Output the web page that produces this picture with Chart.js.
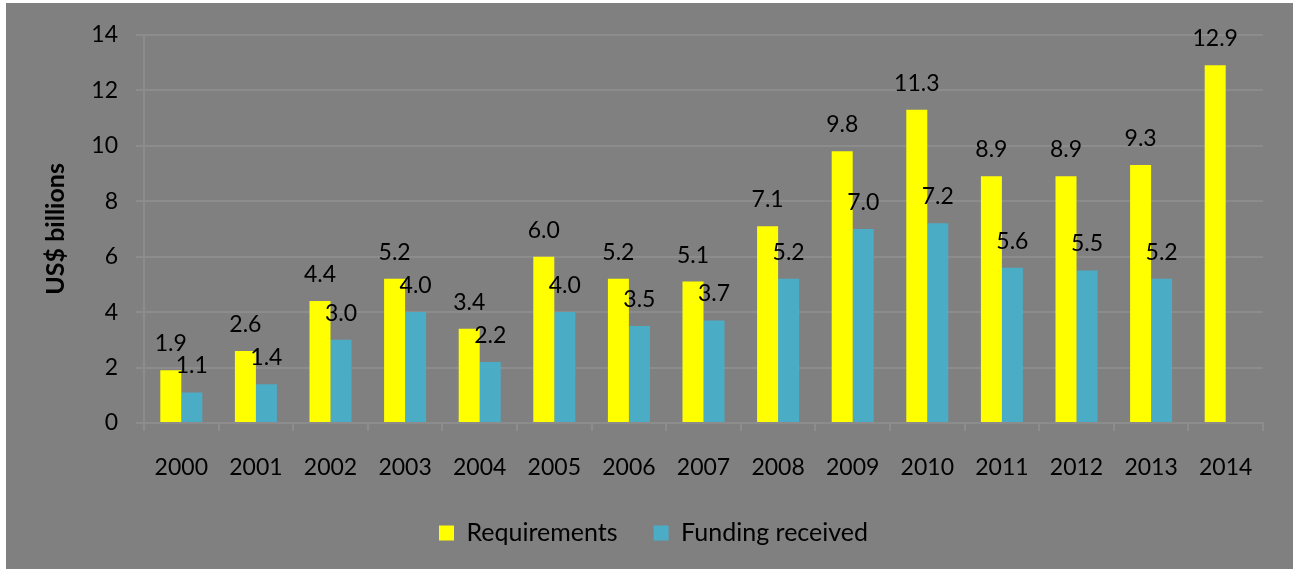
<!DOCTYPE html>
<html>
<head>
<meta charset="utf-8">
<script src="https://cdn.jsdelivr.net/npm/chart.js@4"></script>
<style>
  html, body { margin: 0; padding: 0; background: #ffffff; }
  #wrap { position: absolute; left: 6px; top: 3px; width: 1287px; height: 566px; background: #808080; }
  canvas { display: block; }
</style>
</head>
<body>
<div id="wrap"><canvas id="c" width="1287" height="566"></canvas></div>
<script>
const categories = ['2000','2001','2002','2003','2004','2005','2006','2007','2008','2009','2010','2011','2012','2013','2014'];
const requirements = [1.9, 2.6, 4.4, 5.2, 3.4, 6.0, 5.2, 5.1, 7.1, 9.8, 11.3, 8.9, 8.9, 9.3, 12.9];
const fundingReceived = [1.1, 1.4, 3.0, 4.0, 2.2, 4.0, 3.5, 3.7, 5.2, 7.0, 7.2, 5.6, 5.5, 5.2, null];
const seriesNames = ['Requirements', 'Funding received'];
const yTicks = [0, 2, 4, 6, 8, 10, 12, 14];

const FONT = 'Lato, "Open Sans", sans-serif';

const valueLabels = {
  id: 'valueLabels',
  afterDatasetsDraw(chart) {
    const ctx = chart.ctx;
    ctx.save();
    ctx.font = '23px ' + FONT;
    ctx.fillStyle = '#000000';
    ctx.textAlign = 'center';
    ctx.textBaseline = 'alphabetic';
    chart.data.datasets.forEach((ds, di) => {
      const meta = chart.getDatasetMeta(di);
      meta.data.forEach((el, i) => {
        const v = ds.data[i];
        if (v === null || v === undefined) return;
        ctx.fillText(v.toFixed(1), el.x, el.y - 19);
      });
    });
    ctx.restore();
  }
};

const legendShift = {
  id: 'legendShift',
  afterLayout(chart) {
    const lg = chart.legend;
    if (lg) { lg.left += 19; lg.right += 19; }
  }
};

new Chart(document.getElementById('c'), {
  type: 'bar',
  data: {
    labels: categories,
    datasets: [
      { label: seriesNames[0], data: requirements, backgroundColor: '#FFFF00', borderWidth: 0 },
      { label: seriesNames[1], data: fundingReceived, backgroundColor: '#4BACC6', borderWidth: 0 }
    ]
  },
  options: {
    responsive: false,
    animation: false,
    devicePixelRatio: 1,
    layout: { padding: { left: 0, right: 30, top: 30, bottom: 13.5 } },
    datasets: { bar: { categoryPercentage: 0.563, barPercentage: 1.0 } },
    plugins: {
      legend: {
        position: 'bottom',
        labels: {
          color: '#000000',
          font: { family: FONT, size: 25 },
          boxWidth: 15,
          boxHeight: 15,
          padding: 36
        }
      },
      tooltip: { enabled: false }
    },
    scales: {
      x: {
        grid: { display: true, drawOnChartArea: false, color: '#8c8c8c', tickLength: 8, offset: true, lineWidth: 2 },
        border: { display: true, color: '#8c8c8c', width: 2 },
        ticks: { color: '#000000', font: { family: FONT, size: 23 }, padding: 23, maxRotation: 0 },
        afterFit(scale) { scale.height = 61.5; }
      },
      y: {
        min: 0, max: 14,
        afterBuildTicks(scale) { scale.ticks = yTicks.map(v => ({ value: v })); },
        grid: { color: '#8c8c8c', lineWidth: 2, tickLength: 8 },
        border: { display: true, color: '#8c8c8c', width: 2 },
        ticks: { color: '#000000', font: { family: FONT, size: 23 }, padding: 18 },
        title: { display: true, text: 'US$ billions', color: '#000000', font: { family: FONT, size: 25, weight: 'bold' }, padding: { top: 35, bottom: 0 } },
        afterFit(scale) { scale.width = 138; }
      }
    }
  },
  plugins: [valueLabels, legendShift]
});
</script>
</body>
</html>
